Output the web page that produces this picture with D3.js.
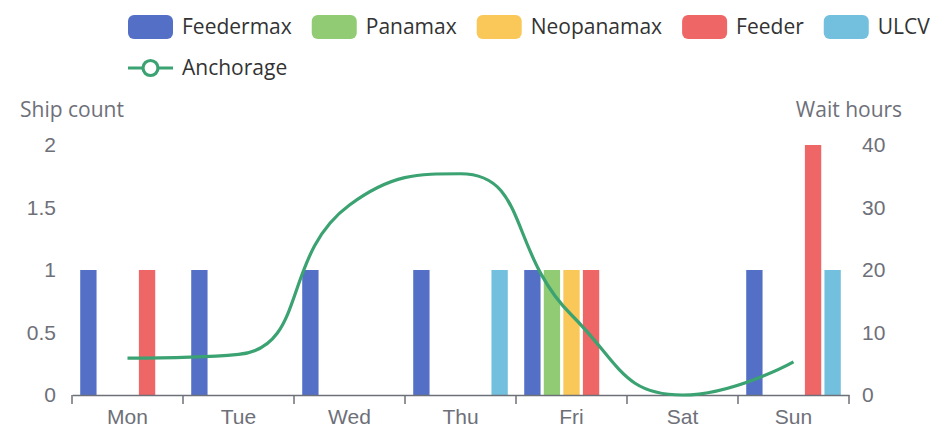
<!DOCTYPE html>
<html>
<head>
<meta charset="utf-8">
<script src="https://cdn.jsdelivr.net/npm/d3@7"></script>
<style>
  body { margin: 0; background: #fff; }
  svg { font-family: "Open Sans", "Noto Sans", sans-serif; }
</style>
</head>
<body>
<div id="container"></div>
<script>
const days = ["Mon", "Tue", "Wed", "Thu", "Fri", "Sat", "Sun"];
const seriesNames = ["Feedermax", "Panamax", "Neopanamax", "Feeder", "ULCV"];
const feedermax = [1, 1, 1, 1, 1, 0, 1];
const panamax = [0, 0, 0, 0, 1, 0, 0];
const neopanamax = [0, 0, 0, 0, 1, 0, 0];
const feeder = [1, 0, 0, 0, 1, 0, 2];
const ulcv = [0, 0, 0, 1, 0, 0, 1];
const anchorage = [5.9, 6.5, 30.4, 35.4, 12.8, 0, 5.3];
const countTicks = [0, 0.5, 1, 1.5, 2];
const hourTicks = [0, 10, 20, 30, 40];

const colors = ["#5470c6", "#91cc75", "#fac858", "#ee6666", "#73c0de"];
const lineColor = "#3ba272";
const axisColor = "#6E7079";
const fs = 21;

const width = 950, height = 436;
const marginLeft = 72, marginRight = 101, marginTop = 145, marginBottom = 41;

const svg = d3.select("#container").append("svg")
  .attr("width", width).attr("height", height);

const x = d3.scaleBand().domain(days)
  .range([marginLeft, width - marginRight]);
const xInner = d3.scaleBand().domain(seriesNames)
  .range([0, x.bandwidth()]).paddingInner(0.165).paddingOuter(0.42);

const yCount = d3.scaleLinear().domain([0, 2])
  .range([height - marginBottom, marginTop]);
const yHours = d3.scaleLinear().domain([0, 40])
  .range([height - marginBottom, marginTop]);

// bars
const allSeries = [feedermax, panamax, neopanamax, feeder, ulcv];
const barData = [];
allSeries.forEach((vals, s) => {
  vals.forEach((v, i) => {
    if (v > 0) barData.push({ day: days[i], name: seriesNames[s], value: v, color: colors[s] });
  });
});

svg.append("g").selectAll("rect")
  .data(barData)
  .join("rect")
  .attr("x", d => x(d.day) + xInner(d.name))
  .attr("y", d => yCount(d.value))
  .attr("width", xInner.bandwidth())
  .attr("height", d => yCount(0) - yCount(d.value))
  .attr("fill", d => d.color);

// x axis
const xAxis = svg.append("g")
  .attr("transform", `translate(0,${height - marginBottom})`)
  .call(d3.axisBottom(x).tickSize(0).tickPadding(14));
xAxis.select(".domain").attr("stroke", axisColor).attr("stroke-width", 1.5);
xAxis.selectAll("text").attr("fill", axisColor).attr("font-size", fs);
const bounds = days.map(d => x(d)).concat([x(days[days.length - 1]) + x.bandwidth()]);
xAxis.selectAll(".bound").data(bounds).join("line")
  .attr("x1", d => d).attr("x2", d => d)
  .attr("y1", 0).attr("y2", 9)
  .attr("stroke", axisColor).attr("stroke-width", 1.5);

// left y axis
const yl = svg.append("g")
  .attr("transform", `translate(${marginLeft},0)`)
  .call(d3.axisLeft(yCount).tickValues(countTicks).tickSize(0).tickPadding(16).tickFormat(d3.format("")));
yl.select(".domain").remove();
yl.selectAll("text").attr("fill", axisColor).attr("font-size", fs);

// right y axis
const yr = svg.append("g")
  .attr("transform", `translate(${width - marginRight},0)`)
  .call(d3.axisRight(yHours).tickValues(hourTicks).tickSize(0).tickPadding(13));
yr.select(".domain").remove();
yr.selectAll("text").attr("fill", axisColor).attr("font-size", fs);

// axis names
svg.append("text").attr("x", marginLeft).attr("y", 117)
  .attr("text-anchor", "middle").attr("fill", axisColor).attr("font-size", fs)
  .text("Ship count");
svg.append("text").attr("x", width - marginRight).attr("y", 117)
  .attr("text-anchor", "middle").attr("fill", axisColor).attr("font-size", fs)
  .text("Wait hours");

// smooth line, bezier control points clamped between neighbours
function smoothPath(pts, smooth) {
  const p = d3.path();
  let cpx0, cpy0;
  pts.forEach(([px, py], k) => {
    if (k === 0) { p.moveTo(px, py); cpx0 = px; cpy0 = py; return; }
    const [prevX, prevY] = pts[k - 1];
    let cpx1 = px, cpy1 = py, nx0 = px, ny0 = py;
    if (k < pts.length - 1) {
      const [nextX, nextY] = pts[k + 1];
      let vx = nextX - prevX, vy = nextY - prevY;
      const lenPrev = Math.hypot(px - prevX, py - prevY);
      const lenNext = Math.hypot(nextX - px, nextY - py);
      const r = lenNext / (lenNext + lenPrev);
      nx0 = px + vx * smooth * r; ny0 = py + vy * smooth * r;
      nx0 = Math.max(Math.min(nx0, Math.max(nextX, px)), Math.min(nextX, px));
      ny0 = Math.max(Math.min(ny0, Math.max(nextY, py)), Math.min(nextY, py));
      vx = nx0 - px; vy = ny0 - py;
      cpx1 = px - vx * lenPrev / lenNext; cpy1 = py - vy * lenPrev / lenNext;
      cpx1 = Math.max(Math.min(cpx1, Math.max(prevX, px)), Math.min(prevX, px));
      cpy1 = Math.max(Math.min(cpy1, Math.max(prevY, py)), Math.min(prevY, py));
      vx = px - cpx1; vy = py - cpy1;
      nx0 = px + vx * lenNext / lenPrev; ny0 = py + vy * lenNext / lenPrev;
    }
    p.bezierCurveTo(cpx0, cpy0, cpx1, cpy1, px, py);
    cpx0 = nx0; cpy0 = ny0;
  });
  return p.toString();
}

const linePts = anchorage.map((v, i) => [x(days[i]) + x.bandwidth() / 2, yHours(v)]);
svg.append("path")
  .attr("d", smoothPath(linePts, 0.5))
  .attr("fill", "none")
  .attr("stroke", lineColor)
  .attr("stroke-width", 3.2)
  .attr("stroke-linejoin", "round");

// legend
const legend = svg.append("g");
let lx = 128;
seriesNames.forEach((name, i) => {
  const g = legend.append("g").attr("transform", `translate(${lx},15)`);
  g.append("rect").attr("width", 45).attr("height", 24).attr("rx", 6).attr("fill", colors[i]);
  const t = g.append("text").attr("x", 54).attr("y", 12).attr("dy", "0.35em")
    .attr("fill", "#333").attr("font-size", fs).text(name);
  lx += 54 + t.node().getComputedTextLength() + 20;
});
const lg = legend.append("g").attr("transform", "translate(128,68)");
lg.append("line").attr("x1", 0).attr("x2", 45).attr("stroke", lineColor).attr("stroke-width", 3.2);
lg.append("circle").attr("cx", 22.5).attr("r", 7.5).attr("fill", "#fff")
  .attr("stroke", lineColor).attr("stroke-width", 3.2);
lg.append("text").attr("x", 54).attr("dy", "0.35em").attr("fill", "#333")
  .attr("font-size", fs).text("Anchorage");
</script>
</body>
</html>
